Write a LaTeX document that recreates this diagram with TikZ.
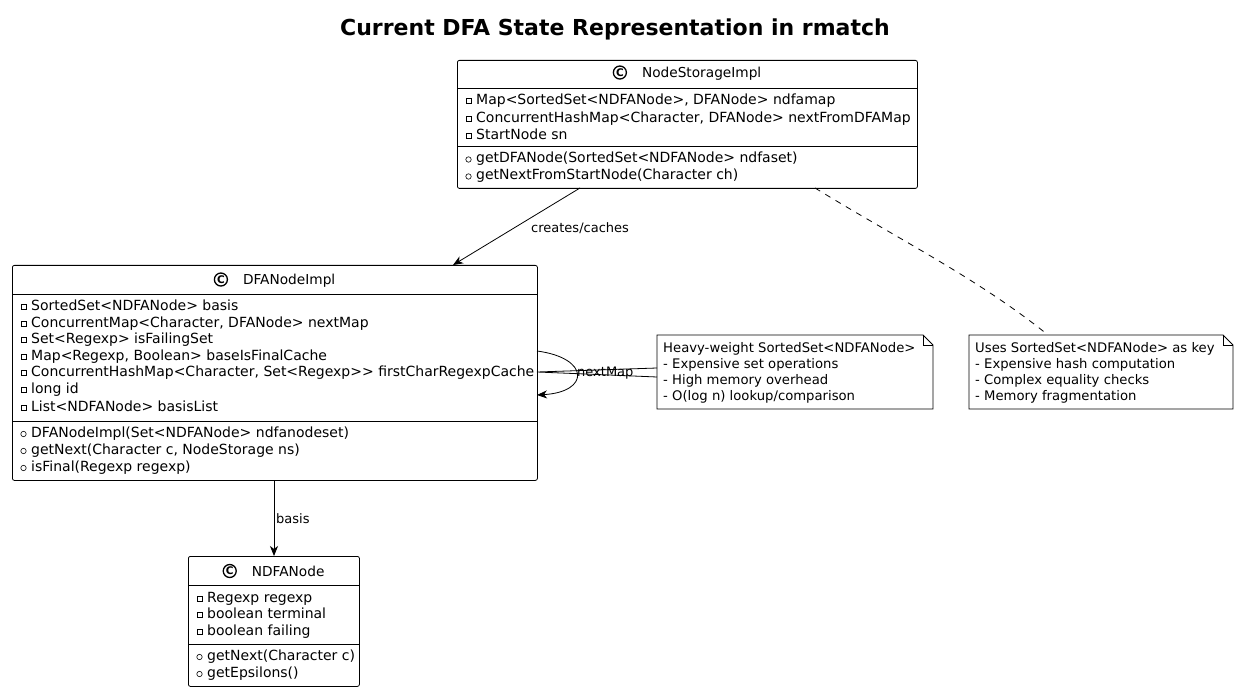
\documentclass[tikz,border=0pt]{standalone}
\usepackage{fontspec}
\setmainfont{DejaVu Sans}
\usetikzlibrary{arrows.meta,calc}
\newcommand\cicon{\tikz[baseline=-0.7ex]\node[circle,draw,line width=1.3pt,inner sep=0pt,minimum size=13pt,font=\fontsize{10.5}{10.5}\selectfont\bfseries]{C};}
\begin{document}
\begin{tikzpicture}[x=1pt,y=-1pt,
  classbox/.style={draw,rounded corners=2pt,line width=0.8pt,anchor=north west,inner sep=0pt},
  notebox/.style={draw,line width=0.8pt},
  txt/.style={anchor=west,inner sep=0pt,font=\fontsize{14}{14}\selectfont,text height=10pt,text depth=3pt},
  ntxt/.style={anchor=west,inner sep=0pt,font=\fontsize{13.2}{13.2}\selectfont,text height=9.5pt,text depth=3pt},
  hdr/.style={inner sep=0pt,font=\fontsize{13.7}{13.7}\selectfont},
  elabel/.style={inner sep=0pt,font=\fontsize{13}{13}\selectfont},
  arr/.style={-{Stealth[length=10pt,width=8pt,inset=3pt]},line width=0.8pt},
  sep/.style={line width=0.8pt}
]
\useasboundingbox (0,0) rectangle (1239,692);
\fill[white] (0,0) rectangle (1239,692);

\newcommand\attr[4]{\node[txt] (#1) at (#2+19,#3) {#4};
  \draw[line width=0.6pt] (#2+9,#3-2.5) rectangle (#2+14,#3+2.5);}
\newcommand\meth[4]{\node[txt] (#1) at (#2+19,#3) {#4};
  \draw[line width=0.6pt] (#2+11.5,#3) circle (2.7);}

% title
\node[inner sep=0pt,font=\fontsize{22}{22}\selectfont\bfseries] (title) at (615,29) {Current DFA State Representation in rmatch};

% NodeStorageImpl
\node[classbox,minimum width=460,minimum height=128] (ns) at (457,60) {};
\node[hdr] (nsh) at (687,73) {\cicon\hspace{15pt}NodeStorageImpl};
\draw[sep] (457,88) -- (917,88);
\draw[sep] (457,146) -- (917,146);
\attr{ns1}{457}{101}{Map<SortedSet<NDFANode>, DFANode> ndfamap}
\attr{ns2}{457}{119}{ConcurrentHashMap<Character, DFANode> nextFromDFAMap}
\attr{ns3}{457}{136}{StartNode sn}
\meth{ns4}{457}{159.5}{getDFANode(SortedSet<NDFANode> ndfaset)}
\meth{ns5}{457}{176.5}{getNextFromStartNode(Character ch)}

% DFANodeImpl
\node[classbox,minimum width=525,minimum height=215] (dfa) at (12,265) {};
\node[hdr] (dfah) at (274.5,280) {\cicon\hspace{15pt}DFANodeImpl};
\draw[sep] (12,294) -- (537,294);
\draw[sep] (12,421) -- (537,421);
\attr{d1}{12}{307}{SortedSet<NDFANode> basis}
\attr{d2}{12}{324}{ConcurrentMap<Character, DFANode> nextMap}
\attr{d3}{12}{340}{Set<Regexp> isFailingSet}
\attr{d4}{12}{357}{Map<Regexp, Boolean> baseIsFinalCache}
\attr{d5}{12}{373}{ConcurrentHashMap<Character, Set<Regexp>{}> firstCharRegexpCache}
\attr{d6}{12}{390}{long id}
\attr{d7}{12}{408}{List<NDFANode> basisList}
\meth{d8}{12}{434}{DFANodeImpl(Set<NDFANode> ndfanodeset)}
\meth{d9}{12}{451}{getNext(Character c, NodeStorage ns)}
\meth{d10}{12}{468}{isFinal(Regexp regexp)}

% NDFANode
\node[classbox,minimum width=171,minimum height=130] (nd) at (188,556) {};
\node[hdr] (ndh) at (273.5,571) {\cicon\hspace{15pt}NDFANode};
\draw[sep] (188,585) -- (359,585);
\draw[sep] (188,644) -- (359,644);
\attr{n1}{188}{599}{Regexp regexp}
\attr{n2}{188}{615}{boolean terminal}
\attr{n3}{188}{632}{boolean failing}
\meth{n4}{188}{657}{getNext(Character c)}
\meth{n5}{188}{674}{getEpsilons()}

% notes
\draw[notebox] (657,335) -- (923,335) -- (933,345) -- (933,409) -- (657,409) -- cycle;
\draw[line width=0.8pt] (923,335) -- (923,345) -- (933,345);
\node[ntxt] (na1) at (663,349) {Heavy-weight SortedSet<NDFANode>};
\node[ntxt] (na2) at (663,365) {- Expensive set operations};
\node[ntxt] (na3) at (663,381) {- High memory overhead};
\node[ntxt] (na4) at (663,397) {- O(log n) lookup/comparison};

\draw[notebox] (969,335) -- (1223,335) -- (1233,345) -- (1233,409) -- (969,409) -- cycle;
\draw[line width=0.8pt] (1223,335) -- (1223,345) -- (1233,345);
\node[ntxt] (nb1) at (975,349) {Uses SortedSet<NDFANode> as key};
\node[ntxt] (nb2) at (975,365) {- Expensive hash computation};
\node[ntxt] (nb3) at (975,381) {- Complex equality checks};
\node[ntxt] (nb4) at (975,397) {- Memory fragmentation};

% connectors
\coordinate (nsA) at (580,188);
\coordinate (dfaA) at (453,265);
\draw[arr] (nsA) -- (dfaA);
\node[elabel,anchor=west] (l1) at (531,228) {creates/caches};

\coordinate (dfaB) at (274,480);
\coordinate (ndA) at (274,556);
\draw[arr] (dfaB) -- (ndA);
\node[elabel,anchor=west] (l2) at (276,519) {basis};

\coordinate (loopA) at (537,351);
\coordinate (loopB) at (537,395);
\draw[arr] (loopA) .. controls (590,358) and (590,392) .. (loopB);
\node[elabel,anchor=west] (l3) at (577,373) {nextMap};

\coordinate (w0) at (537,372);
\coordinate (w1) at (657,368);
\coordinate (w2) at (657,377);
\draw[line width=0.8pt] (w1) -- (w0) -- (w2);

\coordinate (nsB) at (815,188);
\coordinate (nbA) at (1048,335);
\draw[line width=0.8pt,dash pattern=on 6pt off 6pt] (nsB) .. controls (900,240) and (980,280) .. (nbA);
\end{tikzpicture}
\end{document}
